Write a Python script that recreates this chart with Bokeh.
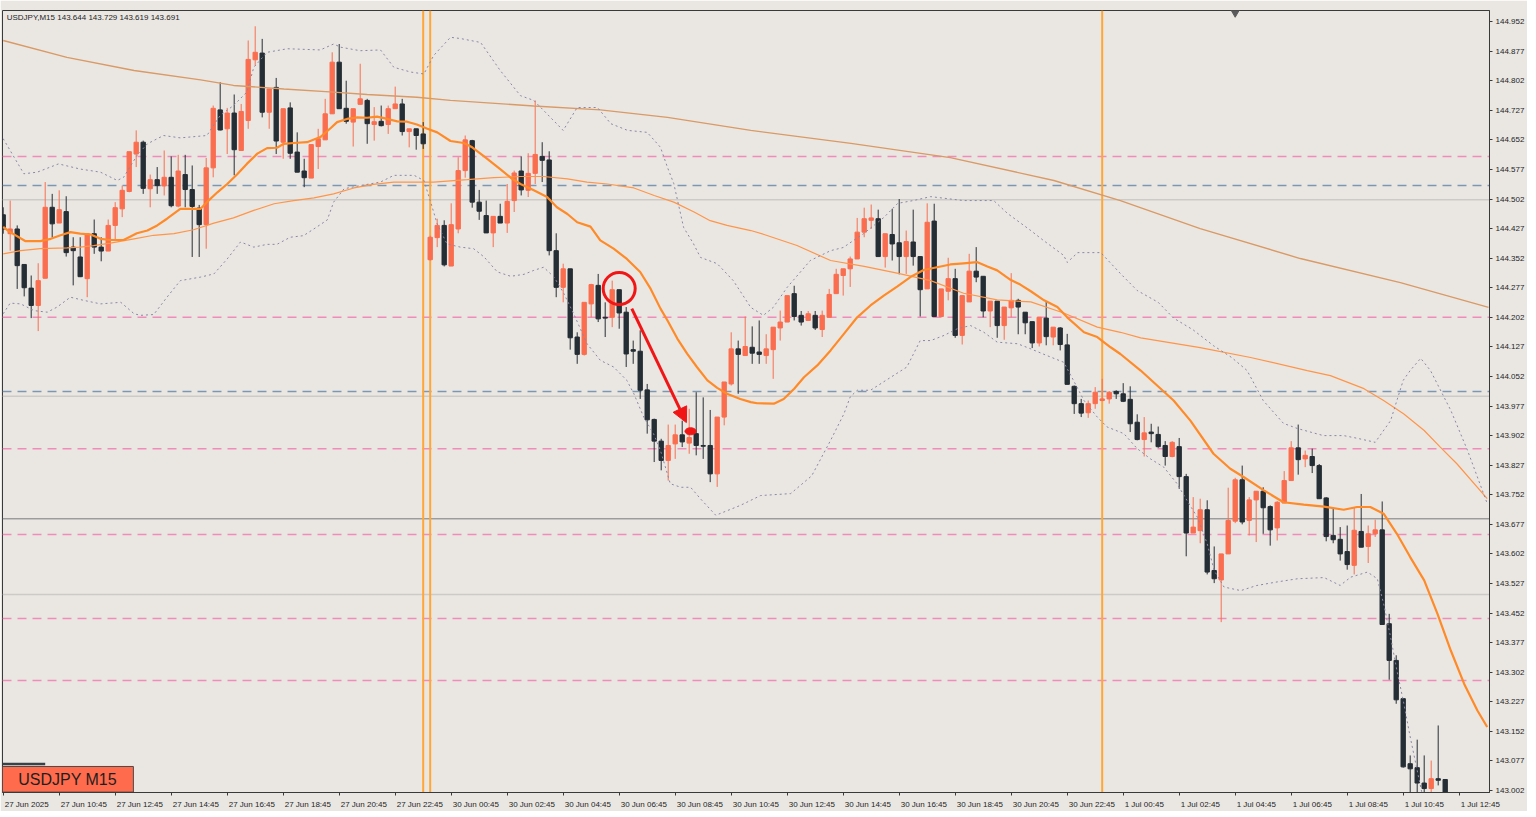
from bokeh.plotting import figure
from bokeh.models import (ColumnDataSource, Range1d, FixedTicker,
                          PrintfTickFormatter, Span, Label, Arrow, NormalHead)
from bokeh.embed import file_html
from bokeh.resources import INLINE
from bokeh.core.properties import value

# ---------------- data ----------------
opens = [144.462,144.414,144.426,144.336,144.276,144.232,144.301,144.481,144.441,144.470,
144.380,144.355,144.300,144.414,144.380,144.370,144.435,144.477,144.521,144.616,
144.646,144.528,144.551,144.535,144.557,144.484,144.564,144.526,144.479,144.437,
144.581,144.728,144.680,144.720,144.625,144.701,144.855,144.872,144.722,144.785,
144.646,144.733,144.621,144.573,144.555,144.635,144.652,144.718,144.849,144.732,
144.697,144.742,144.752,144.691,144.699,144.691,144.731,144.743,144.673,144.680,
144.667,144.348,144.404,144.435,144.332,144.426,144.574,144.650,144.494,144.460,
144.416,144.458,144.441,144.498,144.573,144.524,144.567,144.610,144.601,144.371,
144.278,144.325,144.152,144.108,144.236,144.283,144.202,144.202,144.272,144.215,
144.120,144.116,144.018,143.943,143.888,143.839,143.881,143.904,143.883,143.907,
143.877,143.877,143.805,143.949,144.033,144.122,144.105,144.126,144.114,144.105,
144.120,144.175,144.190,144.262,144.207,144.194,144.207,144.171,144.202,144.262,
144.308,144.325,144.350,144.418,144.448,144.452,144.356,144.412,144.391,144.356,
144.393,144.356,144.274,144.446,144.204,144.268,144.300,144.156,144.241,144.319,
144.306,144.218,144.243,144.181,144.226,144.245,144.215,144.191,144.137,144.200,
144.152,144.175,144.132,144.027,143.983,143.960,143.983,143.991,143.995,144.014,
144.008,143.994,143.936,143.892,143.911,143.905,143.877,143.849,143.874,143.798,
143.655,143.661,143.714,143.560,143.536,143.602,143.685,143.790,143.687,143.739,
143.761,143.722,143.668,143.731,143.788,143.871,143.843,143.849,143.826,143.744,
143.649,143.639,143.608,143.573,143.659,143.621,143.653,143.663,143.425,143.332,
143.235,143.070,143.060,143.021,143.007,143.032,143.030]

highs = [144.481,144.498,144.435,144.336,144.308,144.339,144.545,144.515,144.524,144.509,
144.405,144.405,144.414,144.450,144.405,144.450,144.494,144.536,144.622,144.676,
144.650,144.564,144.583,144.625,144.610,144.614,144.614,144.587,144.487,144.606,
144.739,144.798,144.733,144.767,144.743,144.904,144.940,144.908,144.781,144.809,
144.731,144.747,144.671,144.604,144.640,144.680,144.756,144.874,144.895,144.802,
144.731,144.845,144.756,144.735,144.739,144.739,144.787,144.756,144.680,144.680,
144.697,144.409,144.452,144.448,144.491,144.608,144.663,144.652,144.525,144.498,
144.458,144.490,144.540,144.574,144.610,144.618,144.752,144.646,144.623,144.415,
144.338,144.325,144.164,144.240,144.287,144.312,144.240,144.295,144.272,144.228,
144.143,144.169,144.033,143.945,143.894,143.930,143.930,143.940,143.970,144.012,
143.999,143.967,143.949,144.038,144.164,144.143,144.204,144.179,144.194,144.159,
144.177,144.219,144.257,144.282,144.218,144.218,144.218,144.219,144.274,144.325,
144.325,144.356,144.454,144.480,144.488,144.475,144.414,144.477,144.502,144.422,
144.475,144.356,144.491,144.490,144.274,144.353,144.325,144.257,144.363,144.380,
144.306,144.243,144.243,144.228,144.314,144.249,144.215,144.191,144.202,144.241,
144.177,144.177,144.160,144.029,143.995,143.991,144.025,144.046,144.015,144.017,
144.035,144.027,143.956,143.949,143.932,143.925,143.888,143.888,143.896,143.805,
143.746,143.742,143.738,143.621,143.602,143.770,143.795,143.826,143.746,143.761,
143.771,143.725,143.736,143.812,143.888,143.930,143.864,143.869,143.830,143.746,
143.719,143.670,143.674,143.719,143.754,143.674,143.689,143.735,143.450,143.345,
143.235,143.091,143.131,143.091,143.078,143.167,143.030]

lows = [144.414,144.371,144.274,144.255,144.200,144.167,144.301,144.405,144.441,144.356,
144.283,144.304,144.253,144.363,144.344,144.370,144.397,144.456,144.519,144.583,
144.515,144.481,144.515,144.511,144.481,144.481,144.481,144.355,144.355,144.376,
144.557,144.676,144.616,144.562,144.625,144.680,144.840,144.709,144.680,144.616,
144.604,144.604,144.570,144.532,144.555,144.578,144.652,144.718,144.731,144.693,
144.635,144.742,144.642,144.650,144.686,144.667,144.731,144.663,144.633,144.627,
144.629,144.346,144.380,144.331,144.332,144.415,144.556,144.480,144.449,144.416,
144.380,144.441,144.416,144.469,144.511,144.507,144.540,144.545,144.359,144.253,
144.240,144.120,144.084,144.105,144.202,144.190,144.152,144.177,144.173,144.076,
144.084,143.995,143.907,143.835,143.814,143.788,143.843,143.873,143.856,143.852,
143.843,143.784,143.772,143.928,144.029,144.008,144.105,144.084,144.084,144.084,
144.046,144.143,144.190,144.194,144.181,144.194,144.170,144.152,144.202,144.262,
144.257,144.279,144.350,144.405,144.426,144.356,144.328,144.346,144.311,144.312,
144.333,144.204,144.274,144.204,144.204,144.245,144.150,144.133,144.241,144.291,
144.202,144.177,144.150,144.145,144.202,144.159,144.159,144.124,144.128,144.131,
144.131,144.118,144.032,143.957,143.949,143.947,143.970,143.989,143.983,143.995,
143.987,143.911,143.890,143.849,143.885,143.871,143.826,143.847,143.767,143.596,
143.655,143.629,143.550,143.528,143.429,143.602,143.680,143.677,143.649,143.632,
143.653,143.623,143.636,143.731,143.788,143.803,143.822,143.807,143.742,143.634,
143.629,143.585,143.562,143.550,143.619,143.579,143.645,143.423,143.283,143.222,
143.060,142.969,142.969,142.969,142.969,143.015,142.943]

closes = [144.426,144.426,144.333,144.277,144.232,144.295,144.481,144.439,144.475,144.366,
144.371,144.305,144.414,144.380,144.370,144.435,144.480,144.524,144.622,144.646,
144.529,144.551,144.536,144.557,144.485,144.573,144.526,144.483,144.437,144.581,
144.732,144.677,144.720,144.627,144.724,144.856,144.874,144.722,144.781,144.649,
144.731,144.618,144.570,144.556,144.640,144.655,144.718,144.849,144.731,144.699,
144.731,144.756,144.693,144.698,144.688,144.731,144.743,144.673,144.680,144.663,
144.642,144.405,144.435,144.335,144.437,144.574,144.652,144.494,144.471,144.416,
144.458,144.441,144.496,144.568,144.525,144.567,144.615,144.600,144.371,144.278,
144.325,144.150,144.108,144.240,144.285,144.198,144.200,144.272,144.213,144.109,
144.116,144.017,143.942,143.888,143.839,143.877,143.904,143.886,143.897,143.877,
143.875,143.805,143.949,144.038,144.122,144.108,144.128,144.111,144.108,144.122,
144.177,144.190,144.257,144.204,144.190,144.211,144.175,144.207,144.260,144.311,
144.325,144.350,144.418,144.452,144.454,144.356,144.414,144.388,144.356,144.394,
144.356,144.272,144.443,144.204,144.274,144.300,144.156,144.257,144.319,144.304,
144.218,144.243,144.181,144.228,144.245,144.228,144.188,144.137,144.202,144.153,
144.177,144.133,144.032,143.983,143.959,143.983,144.012,143.995,144.012,144.008,
143.989,143.932,143.892,143.909,143.907,143.874,143.849,143.885,143.798,143.655,
143.670,143.714,143.556,143.539,143.602,143.687,143.790,143.683,143.739,143.761,
143.719,143.663,143.733,143.788,143.871,143.841,143.852,143.826,143.742,143.646,
143.638,143.602,143.575,143.662,143.619,143.653,143.663,143.423,143.332,143.232,
143.062,143.057,143.021,143.007,143.032,143.028,142.952]

# moving average (thick, 20): bar index / price
ma_fast_idx = [0,1.0,3.2,5.3,6.8,8.2,9.6,11.0,12.5,13.9,15.3,17.2,19.1,20.6,22.0,23.4,25.3,28.2,29.1,30.6,
32.0,33.4,34.8,36.3,37.7,39.1,40.1,41.5,43.4,44.4,45.3,46.8,47.7,49.1,50.6,52.0,53.4,54.9,56.3,57.7,
59.1,60.6,62.0,63.9,65.8,67.0,68.7,71.0,72.5,73.9,75.8,77.7,79.1,80.6,82.0,83.9,85.3,87.2,89.1,91.0,
92.5,93.9,94.9,96.3,97.7,99.1,100.6,102.0,103.4,105.3,106.8,107.7,110.1,111.5,113.0,114.4,116.3,118.2,120.1,122.0,
123.9,125.8,127.7,129.6,131.5,133.4,135.3,137.2,139.1,140.6,142.0,143.9,145.3,146.8,148.7,150.6,152.0,154.4,156.3,158.2,
159.6,162.5,167.2,169.6,172.9,175.3,177.2,180.1,182.9,185.8,188.7,191.5,193.4,195.3,197.2,199.1,201.0,203.0,204.9,206.8,
208.7,210.6,212.0]
ma_fast_val = [144.431,144.418,144.395,144.395,144.401,144.410,144.418,144.414,144.412,144.401,144.398,144.398,144.415,144.422,144.435,144.452,144.477,144.477,144.494,144.519,
144.540,144.564,144.591,144.617,144.631,144.632,144.642,144.644,144.646,144.653,144.659,144.682,144.697,144.705,144.709,144.708,144.711,144.705,144.699,144.698,
144.691,144.680,144.671,144.649,144.644,144.633,144.610,144.578,144.556,144.540,144.524,144.507,144.481,144.464,144.443,144.432,144.397,144.376,144.350,144.317,
144.274,144.224,144.194,144.148,144.110,144.076,144.042,144.023,144.008,143.995,143.987,143.984,143.983,143.995,144.021,144.050,144.080,144.118,144.160,144.202,
144.232,144.257,144.280,144.304,144.322,144.329,144.336,144.339,144.342,144.331,144.321,144.297,144.285,144.268,144.245,144.228,144.202,144.164,144.152,144.126,
144.109,144.067,143.991,143.940,143.856,143.818,143.797,143.763,143.733,143.727,143.722,143.714,143.721,143.721,143.704,143.653,143.594,143.535,143.450,143.357,
143.273,143.205,143.163]

# moving average (thin, medium period)
ma_mid_idx = [0,2.5,5.3,9.1,11.0,12.9,15.3,18.7,21.5,24.4,27.2,30.1,32.9,35.8,38.7,41.5,44.4,47.2,50.1,52.9,
55.8,58.2,61.5,66.3,70.1,73.9,77.2,80.6,83.4,86.3,90.1,93.0,95.8,98.7,101.0,103.4,106.8,108.7,113.4,118.2,
123.0,127.7,132.5,137.2,142.0,146.8,151.5,156.3,159.6,162.5,171.0,178.2,186.3,189.6,194.4,197.2,200.1,203.0,205.3,207.7,
212.0]
ma_mid_val = [144.363,144.371,144.376,144.378,144.380,144.384,144.390,144.401,144.410,144.414,144.424,144.441,144.454,144.473,144.490,144.498,144.505,144.515,144.530,144.539,
144.545,144.545,144.545,144.551,144.556,144.559,144.559,144.553,144.545,144.540,144.530,144.511,144.494,144.469,144.447,144.435,144.422,144.412,144.384,144.346,
144.331,144.314,144.295,144.263,144.246,144.241,144.213,144.177,144.164,144.150,144.125,144.100,144.067,144.054,144.021,143.991,143.957,143.915,143.873,143.830,
143.742]

# moving average (long period)
ma_slow_idx = [0,9.1,18.7,28.2,32.9,40.1,47.2,52.0,59.1,63.9,75.8,85.3,94.9,106.8,121.1,135.3,150.1,159.6,171.0,185.3,199.6,212.2]
ma_slow_val = [144.904,144.861,144.828,144.804,144.790,144.781,144.773,144.767,144.760,144.752,144.738,144.728,144.709,144.676,144.643,144.607,144.549,144.498,144.427,144.351,144.290,144.227]

# Bollinger upper band
bb_up_idx = [0,2.95,4.85,7.9,11.0,13.9,16.3,17.2,19.1,20.6,22.9,25.3,29.1,31.0,32.9,34.8,35.8,37.7,40.6,45.3,
47.2,48.2,51.0,53.9,55.8,58.2,60.1,61.5,63.9,65.3,68.2,71.0,73.9,75.8,80.0,82.0,84.9,86.8,89.2,92.0,
93.9,94.9,95.8,97.2,98.6,99.6,102.0,104.3,106.8,108.6,110.0,112.0,115.3,118.2,120.0,122.9,125.8,127.8,130.0,132.5,
137.2,141.5,143.5,146.8,148.6,151.5,152.0,153.5,156.8,159.6,162.0,165.0,167.2,170.0,172.9,175.5,177.7,180.0,182.9,184.9,
188.6,191.5,193.5,196.0,198.2,200.0,201.0,202.5,203.9,206.8,209.2,212.0]
bb_up_val = [144.655,144.566,144.570,144.591,144.578,144.570,144.549,144.557,144.612,144.642,144.663,144.657,144.663,144.714,144.739,144.773,144.836,144.874,144.883,144.880,
144.895,144.887,144.878,144.880,144.836,144.824,144.819,144.866,144.912,144.909,144.899,144.828,144.764,144.752,144.676,144.734,144.734,144.693,144.676,144.671,
144.633,144.582,144.541,144.430,144.389,144.354,144.338,144.295,144.227,144.207,144.227,144.278,144.346,144.371,144.379,144.414,144.455,144.491,144.498,144.508,
144.498,144.498,144.465,144.422,144.397,144.359,144.341,144.366,144.366,144.313,144.270,144.240,144.200,144.170,144.130,144.100,144.067,143.991,143.933,143.920,
143.902,143.902,143.895,143.885,143.940,144.042,144.067,144.098,144.067,143.966,143.864,143.730]

# Bollinger lower band
bb_lo_idx = [0,1.0,2.5,4.4,6.3,7.7,9.6,11.5,13.9,16.8,18.7,19.6,21.5,23.4,25.3,28.2,30.1,32.0,33.9,35.8,
37.7,39.1,41.0,42.9,44.8,46.3,47.2,48.7,51.0,53.9,55.8,58.7,60.1,61.0,62.0,63.4,65.3,67.2,68.7,70.6,
72.5,74.4,75.8,77.2,78.7,80.1,81.5,83.4,85.3,87.2,89.1,90.1,91.5,92.9,93.9,95.3,96.8,98.2,99.6,101.8,
105.3,108.2,112.5,115.5,118.2,120.1,121.0,122.0,123.9,126.8,129.1,131.0,132.5,134.4,136.3,138.2,140.1,142.0,144.9,146.8,
149.1,151.5,152.9,154.4,156.3,157.7,160.1,162.0,163.9,165.8,167.7,169.1,170.6,172.0,173.0,174.4,176.8,179.1,182.0,184.9,
188.7,191.0,192.5,194.9,196.3,197.2,198.2,199.1,200.1,201.0,202.0,203.0]
bb_lo_val = [144.211,144.238,144.236,144.219,144.215,144.228,144.253,144.245,144.236,144.240,144.211,144.207,144.209,144.253,144.295,144.304,144.312,144.350,144.393,144.380,
144.387,144.387,144.405,144.409,144.431,144.449,144.494,144.528,144.536,144.545,144.562,144.562,144.549,144.498,144.439,144.388,144.380,144.376,144.355,144.317,
144.306,144.311,144.321,144.329,144.304,144.262,144.211,144.135,144.093,144.076,144.042,144.008,143.949,143.907,143.864,143.780,143.771,143.771,143.742,143.700,
143.725,143.750,143.755,143.800,143.890,143.957,144.000,144.017,144.017,144.050,144.076,144.143,144.143,144.156,144.173,144.181,144.164,144.139,144.135,144.122,
144.105,144.088,144.042,143.991,143.949,143.924,143.907,143.869,143.843,143.822,143.780,143.738,143.695,143.628,143.560,143.518,143.509,143.522,143.531,143.539,
143.542,143.522,143.543,143.556,143.539,143.476,143.391,143.307,143.222,143.138,143.053,142.969]

pink_levels = [144.610, 144.202, 143.869, 143.651, 143.438, 143.281]
blue_levels = [144.536, 144.014]
gray_levels = [144.500, 144.002, 143.499]
bid_level = 143.691
day_lines = [60, 61, 157]

price_ticks = [144.952,144.877,144.802,144.727,144.652,144.577,144.502,144.427,144.352,144.277,
               144.202,144.127,144.052,143.977,143.902,143.827,143.752,143.677,143.602,143.527,
               143.452,143.377,143.302,143.227,143.152,143.077,143.002]
time_ticks = [0,8,16,24,32,40,48,56,64,72,80,88,96,104,112,120,128,136,144,152,160,168,176,184,192,200,208]
time_labels = ["27 Jun 2025","27 Jun 10:45","27 Jun 12:45","27 Jun 14:45","27 Jun 16:45","27 Jun 18:45",
               "27 Jun 20:45","27 Jun 22:45","30 Jun 00:45","30 Jun 02:45","30 Jun 04:45","30 Jun 06:45",
               "30 Jun 08:45","30 Jun 10:45","30 Jun 12:45","30 Jun 14:45","30 Jun 16:45","30 Jun 18:45",
               "30 Jun 20:45","30 Jun 22:45","1 Jul 00:45","1 Jul 02:45","1 Jul 04:45","1 Jul 06:45",
               "1 Jul 08:45","1 Jul 10:45","1 Jul 12:45"]
header_text = "USDJPY,M15  143.644 143.729 143.619 143.691"
badge_text = "USDJPY M15"

# annotation anchors (bar index, price)
circle_pt = (88.0, 144.275)
arrow_from = (89.8, 144.224)
arrow_to = (97.6, 143.935)
dot_pt = (98.2, 143.913)

# ---------------- style ----------------
BG = "#EAE7E3"
BULL = "#FA6E4F"
BEAR = "#262E35"
PINK = "#F08CB9"
BLUE = "#7D97B2"
FONT = "Liberation Sans"
X0, X1 = -0.1, 212.33
Y0, Y1 = 142.997, 144.980
FW, FH = 1487, 782
PXB = FW / (X1 - X0)

p = figure(frame_width=FW, frame_height=FH, x_range=Range1d(X0, X1), y_range=Range1d(Y0, Y1),
           output_backend="svg", toolbar_location=None, y_axis_location="right",
           min_border_left=2, min_border_right=0, min_border_top=10, min_border_bottom=0,
           background_fill_color=BG, border_fill_color=BG,
           outline_line_color="#3a3a3a", outline_line_width=1)
p.grid.visible = False

# levels (behind candles)
for lv in gray_levels:
    p.add_layout(Span(location=lv, dimension="width", line_color="#CDCBC8", line_width=1.6, level="underlay"))
for lv in pink_levels:
    p.add_layout(Span(location=lv, dimension="width", line_color=PINK, line_width=1.5,
                      line_dash="9 6", level="underlay"))
for lv in blue_levels:
    p.add_layout(Span(location=lv, dimension="width", line_color=BLUE, line_width=1.5,
                      line_dash="9 6", level="underlay"))
p.add_layout(Span(location=bid_level, dimension="width", line_color="#7A7A7A", line_width=1, level="underlay"))
for d in day_lines:
    p.add_layout(Span(location=d, dimension="height", line_color="#FFA636", line_width=2, level="underlay"))

# candles
idx = list(range(len(opens)))
colors = [BULL if c >= o else BEAR for o, c in zip(opens, closes)]
src = ColumnDataSource(dict(x=idx, o=opens, h=highs, l=lows, c=closes, col=colors))
p.segment(x0="x", y0="l", x1="x", y1="h", source=src, line_color="col", line_width=1)
p.vbar(x="x", top="o", bottom="c", width=0.62, source=src, fill_color="col", line_color="col", line_width=1)

# indicators
p.line(ma_slow_idx, ma_slow_val, line_color="#D99A66", line_width=1.4)
p.line(ma_mid_idx, ma_mid_val, line_color="#FF9548", line_width=1.2)
p.line(bb_up_idx, bb_up_val, line_color="#8A86A6", line_width=1, line_dash="2 3")
p.line(bb_lo_idx, bb_lo_val, line_color="#8A86A6", line_width=1, line_dash="2 3")
p.line(ma_fast_idx, ma_fast_val, line_color="#FF8A28", line_width=2.2)

# drawings
p.scatter([circle_pt[0]], [circle_pt[1]], marker="circle", size=32, fill_color=None,
          line_color="#F01616", line_width=3)
p.add_layout(Arrow(end=NormalHead(size=15, fill_color="#F01616", line_color="#F01616"),
                   x_start=arrow_from[0], y_start=arrow_from[1], x_end=arrow_to[0], y_end=arrow_to[1],
                   line_color="#F01616", line_width=3))
p.ellipse(x=[dot_pt[0]], y=[dot_pt[1]], width=1.6, height=0.018, fill_color="#F01616", line_color="#F01616")

# shift marker
p.scatter([176], [144.976], marker="inverted_triangle", size=9, color="#5A5A5A")

# badge bottom-left
p.quad(left=[X0], right=[18.6], top=[143.063], bottom=[142.998], fill_color="#FF6B4D",
       line_color="#4A4A4A", line_width=1)
p.segment(x0=[X0], y0=[143.069], x1=[6.0], y1=[143.069], line_color="#3A4046", line_width=2.5)
p.text(x=[9.2], y=[143.030], text=[badge_text], text_font=value(FONT), text_font_size="16px",
       text_color="#1E1E1E", text_align="center", text_baseline="middle")

# header
p.add_layout(Label(x=X0 + 0.6, y=144.962, text=header_text, text_font=FONT, text_font_size="8px",
                   text_color="#1E1E1E", text_baseline="middle"))

# right price axis
ya = p.yaxis[0]
ya.ticker = FixedTicker(ticks=price_ticks)
ya.formatter = PrintfTickFormatter(format="%.3f")
ya.major_tick_out = 3
ya.major_tick_in = 0
ya.minor_tick_out = 0
ya.minor_tick_in = 0
ya.major_label_standoff = 3
ya.axis_line_color = "#3a3a3a"
ya.major_tick_line_color = "#3a3a3a"
ya.major_label_text_font = FONT
ya.major_label_text_font_size = "8px"
ya.major_label_text_color = "#1E1E1E"

# bottom time axis: tick marks as minor ticks, labels left-aligned next to them
CW = {" ": 0.278, ":": 0.278, "J": 0.5, "u": 0.556, "n": 0.556, "l": 0.222}
def text_w(s):
    return sum(CW.get(ch, 0.556) for ch in s) * 8

lab_pos = [round(t + (1.5 + text_w(s) / 2) / PXB, 3) for t, s in zip(time_ticks, time_labels)]
xa = p.xaxis[0]
xa.ticker = FixedTicker(ticks=lab_pos, minor_ticks=time_ticks)
xa.major_label_overrides = {pos: s for pos, s in zip(lab_pos, time_labels)}
xa.major_tick_out = 0
xa.major_tick_in = 0
xa.minor_tick_out = 3
xa.minor_tick_in = 0
xa.major_label_standoff = 4
xa.axis_line_color = "#3a3a3a"
xa.minor_tick_line_color = "#3a3a3a"
xa.major_label_text_font = FONT
xa.major_label_text_font_size = "8px"
xa.major_label_text_color = "#1E1E1E"

# bid price tag
p.add_layout(Label(x=X1, y=bid_level, x_offset=1, text="143.691", text_font=FONT, text_font_size="8px",
                   text_color="white", text_baseline="middle", text_align="left",
                   background_fill_color="#000000", padding=2))

open("out.html", "w").write(file_html(p, INLINE))
